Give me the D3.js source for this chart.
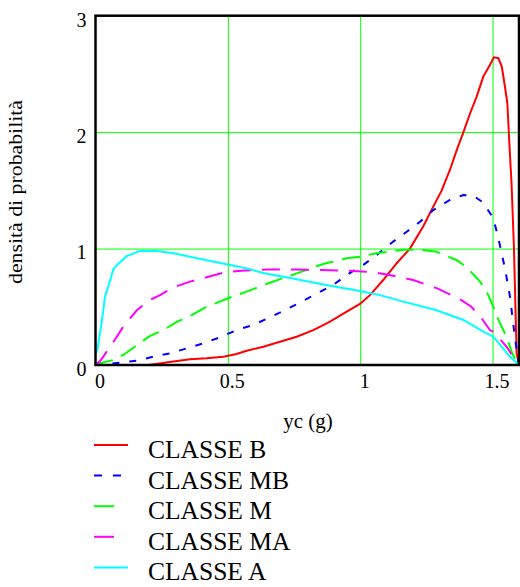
<!DOCTYPE html>
<html>
<head>
<meta charset="utf-8">
<script src="https://cdn.jsdelivr.net/npm/d3@7"></script>
<style>
  body { margin: 0; background: #fff; }
  svg { display: block; }
  svg text { font-family: "Liberation Serif", Tinos, "Times New Roman", Times, "DejaVu Serif", serif; fill: #000; }
  .grid line { stroke: #00ff00; stroke-width: 1; }
  .grid path { display: none; }
  .tick-labels path, .tick-labels line { display: none; }
</style>
</head>
<body>
<div id="vis"></div>
<script>
const FRAME_WIDTH = 520;
const FRAME_HEIGHT = 587;
const MARGINS = {left: 95.5, right: 1, top: 15.7, bottom: 222};
const SERIF = '"Liberation Serif", Tinos, "Times New Roman", Times, "DejaVu Serif", serif';

// tick values
const X_TICKS = [0, 0.5, 1, 1.5];
const Y_TICKS = [0, 1, 2, 3];

// series
const SERIES_NAMES = ["CLASSE B", "CLASSE MB", "CLASSE M", "CLASSE MA", "CLASSE A"];

const classeB_x = [0, 0.2, 0.294, 0.357, 0.42, 0.483, 0.533, 0.571, 0.634, 0.697, 0.76, 0.823, 0.886, 0.949, 0.999, 1.037, 1.087, 1.138, 1.188, 1.238, 1.276, 1.308, 1.339, 1.365, 1.39, 1.415, 1.44, 1.465, 1.49, 1.505, 1.522, 1.535, 1.547, 1.556, 1.563, 1.572, 1.581, 1.591, 1.6];
const classeB_y = [0, 0.0, 0.03, 0.049, 0.057, 0.071, 0.094, 0.123, 0.157, 0.2, 0.243, 0.3, 0.372, 0.458, 0.524, 0.6, 0.73, 0.874, 1.0, 1.19, 1.36, 1.5, 1.675, 1.847, 2.0, 2.16, 2.305, 2.477, 2.577, 2.643, 2.635, 2.563, 2.39, 2.248, 1.93, 1.55, 1.0, 0.1, 0];

const classeMB_x = [0, 0.093, 0.156, 0.218, 0.281, 0.345, 0.407, 0.47, 0.533, 0.596, 0.659, 0.722, 0.779, 0.842, 0.898, 0.949, 1.012, 1.062, 1.125, 1.176, 1.226, 1.276, 1.339, 1.39, 1.43, 1.465, 1.503, 1.522, 1.547, 1.566, 1.578, 1.591, 1.6];
const classeMB_y = [0, 0.02, 0.037, 0.071, 0.1, 0.143, 0.186, 0.238, 0.3, 0.344, 0.41, 0.478, 0.544, 0.62, 0.687, 0.773, 0.86, 0.945, 1.06, 1.145, 1.23, 1.33, 1.417, 1.46, 1.45, 1.394, 1.26, 1.088, 0.83, 0.587, 0.358, 0.13, 0];

const classeM_x = [0, 0.017, 0.067, 0.105, 0.156, 0.206, 0.256, 0.307, 0.357, 0.42, 0.508, 0.571, 0.659, 0.76, 0.86, 0.949, 0.999, 1.062, 1.163, 1.226, 1.289, 1.365, 1.402, 1.453, 1.484, 1.503, 1.528, 1.553, 1.572, 1.59, 1.6];
const classeM_y = [0, 0.015, 0.043, 0.086, 0.17, 0.25, 0.3, 0.37, 0.42, 0.5, 0.58, 0.63, 0.707, 0.787, 0.868, 0.916, 0.93, 0.96, 0.99, 0.99, 0.973, 0.9, 0.84, 0.716, 0.6, 0.5, 0.36, 0.243, 0.114, 0.03, 0];

const classeMA_x = [0, 0.02, 0.042, 0.08, 0.105, 0.156, 0.206, 0.244, 0.294, 0.357, 0.42, 0.483, 0.55, 0.65, 0.75, 0.85, 0.95, 1.04, 1.11, 1.2, 1.289, 1.377, 1.42, 1.459, 1.49, 1.503, 1.553, 1.59, 1.6];
const classeMA_y = [0, 0.04, 0.114, 0.24, 0.33, 0.47, 0.56, 0.6, 0.667, 0.716, 0.753, 0.793, 0.81, 0.82, 0.82, 0.815, 0.81, 0.8, 0.773, 0.73, 0.66, 0.564, 0.5, 0.4, 0.3, 0.286, 0.157, 0.03, 0];

const classeA_x = [0, 0.007, 0.023, 0.036, 0.048, 0.067, 0.086, 0.118, 0.168, 0.231, 0.294, 0.357, 0.42, 0.495, 0.571, 0.634, 0.76, 0.886, 0.999, 1.075, 1.163, 1.289, 1.39, 1.465, 1.503, 1.54, 1.566, 1.591, 1.6];
const classeA_y = [0.1, 0.13, 0.36, 0.59, 0.67, 0.82, 0.87, 0.935, 0.98, 0.98, 0.96, 0.93, 0.9, 0.865, 0.83, 0.79, 0.736, 0.68, 0.635, 0.6, 0.544, 0.47, 0.387, 0.286, 0.243, 0.143, 0.07, 0.02, 0];

const SERIES = [
  {name: SERIES_NAMES[0], xs: classeB_x, ys: classeB_y, color: "#ff0000", dash: null, key: null},
  {name: SERIES_NAMES[1], xs: classeMB_x, ys: classeMB_y, color: "#0000ff", dash: "7,10", key: "8,11"},
  {name: SERIES_NAMES[2], xs: classeM_x, ys: classeM_y, color: "#00ff00", dash: "18,9", key: "20,14"},
  {name: SERIES_NAMES[3], xs: classeMA_x, ys: classeMA_y, color: "#ff00ff", dash: "18,11", key: "20,14"},
  {name: SERIES_NAMES[4], xs: classeA_x, ys: classeA_y, color: "#00ffff", dash: null, key: null}
];

const VIS_WIDTH = FRAME_WIDTH - MARGINS.left - MARGINS.right;
const VIS_HEIGHT = FRAME_HEIGHT - MARGINS.top - MARGINS.bottom;

const FRAME = d3.select("#vis")
  .append("svg")
    .attr("width", FRAME_WIDTH)
    .attr("height", FRAME_HEIGHT);

const X_SCALE = d3.scaleLinear().domain([0, 1.6]).range([0, VIS_WIDTH]);
const Y_SCALE = d3.scaleLinear().domain([0, 3]).range([VIS_HEIGHT, 0]);

const PLOT = FRAME.append("g")
  .attr("transform", "translate(" + MARGINS.left + "," + MARGINS.top + ")");

// green grid lines
PLOT.append("g")
  .attr("class", "grid")
  .attr("transform", "translate(0," + VIS_HEIGHT + ")")
  .call(d3.axisBottom(X_SCALE).tickValues(X_TICKS.filter(d => d > 0)).tickSize(-VIS_HEIGHT).tickFormat(""));
PLOT.append("g")
  .attr("class", "grid")
  .call(d3.axisLeft(Y_SCALE).tickValues(Y_TICKS.filter(d => d > 0 && d < 3)).tickSize(-VIS_WIDTH).tickFormat(""));

// curves
PLOT.append("clipPath").attr("id", "clip")
  .append("rect").attr("width", VIS_WIDTH).attr("height", VIS_HEIGHT);

const line = d3.line()
  .x(d => X_SCALE(d[0]))
  .y(d => Y_SCALE(d[1]));

PLOT.selectAll(".curve")
  .data(SERIES)
  .enter()
  .append("path")
    .attr("class", "curve")
    .attr("clip-path", "url(#clip)")
    .attr("d", s => line(d3.zip(s.xs, s.ys)))
    .attr("fill", "none")
    .attr("stroke", s => s.color)
    .attr("stroke-width", 2)
    .attr("stroke-dasharray", s => s.dash);

// black frame
PLOT.append("rect")
  .attr("width", VIS_WIDTH)
  .attr("height", VIS_HEIGHT)
  .attr("fill", "none")
  .attr("stroke", "#000")
  .attr("stroke-width", 2.5);

// tick labels
PLOT.append("g")
  .attr("class", "tick-labels")
  .attr("transform", "translate(4," + VIS_HEIGHT + ")")
  .call(d3.axisBottom(X_SCALE).tickValues(X_TICKS).tickSize(0).tickPadding(9).tickFormat(d3.format("")))
  .attr("font-size", "20px")
  .attr("font-family", SERIF);
PLOT.append("g")
  .attr("class", "tick-labels")
  .attr("transform", "translate(0,4)")
  .call(d3.axisLeft(Y_SCALE).tickValues(Y_TICKS).tickSize(0).tickPadding(9).tickFormat(d3.format("")))
  .attr("font-size", "20px")
  .attr("font-family", SERIF);

// axis titles
FRAME.append("text")
  .attr("x", 308)
  .attr("y", 428)
  .attr("text-anchor", "middle")
  .style("font-family", SERIF)
  .attr("font-size", "21px")
  .text("yc (g)");

FRAME.append("text")
  .attr("transform", "translate(22,192) rotate(-90)")
  .attr("text-anchor", "middle")
  .style("font-family", SERIF)
  .attr("font-size", "19px")
  .attr("textLength", 184)
  .attr("lengthAdjust", "spacingAndGlyphs")
  .text("densità di probabilità");

// legend
const LEGEND = FRAME.selectAll(".legend")
  .data(SERIES)
  .enter()
  .append("g")
    .attr("class", "legend")
    .attr("transform", (d, i) => "translate(0," + (458 + i * 30.6) + ")");

LEGEND.append("line")
  .attr("x1", 94).attr("x2", 128)
  .attr("y1", -13).attr("y2", -13)
  .attr("stroke", d => d.color)
  .attr("stroke-width", 2)
  .attr("stroke-dasharray", d => d.key);

LEGEND.append("text")
  .attr("x", 148)
  .attr("y", 0)
  .style("font-family", SERIF)
  .attr("font-size", "25.5px")
  .text(d => d.name);
</script>
</body>
</html>
